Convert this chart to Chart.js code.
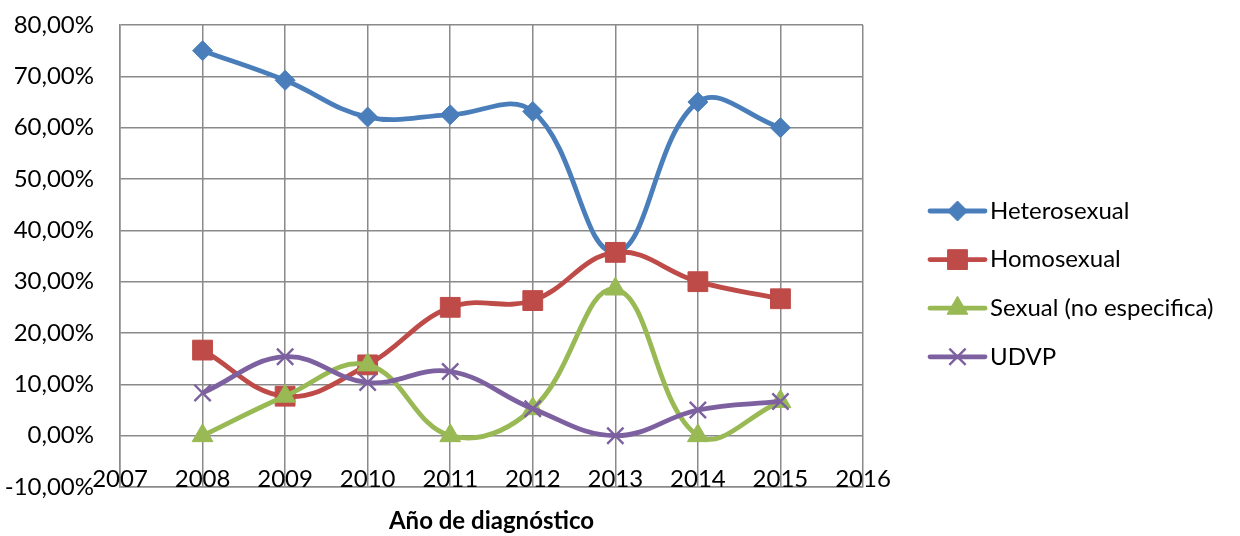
<!DOCTYPE html>
<html>
<head>
<meta charset="utf-8">
<style>
  html, body { margin: 0; padding: 0; background: #ffffff; }
  #wrap { width: 1240px; height: 536px; }
</style>
<script src="https://cdn.jsdelivr.net/npm/chart.js@4.4.0/dist/chart.umd.min.js"></script>
</head>
<body>
<div id="wrap"><canvas id="chart" width="1240" height="536"></canvas></div>
<script>
// Years of diagnosis
const years = [2008, 2009, 2010, 2011, 2012, 2013, 2014, 2015];

// Share of cases by transmission route (percent)
const heterosexual = [75.00, 69.23, 62.07, 62.50, 63.16, 35.71, 65.00, 60.00];
const homosexual = [16.67, 7.69, 13.79, 25.00, 26.32, 35.71, 30.00, 26.67];
const sexualNoEspecifica = [0.00, 7.69, 13.79, 0.00, 5.26, 28.57, 0.00, 6.67];
const udvp = [8.33, 15.38, 10.34, 12.50, 5.26, 0.00, 5.00, 6.67];

const seriesNames = ['Heterosexual', 'Homosexual', 'Sexual (no especifica)', 'UDVP'];
const axisTitle = 'Año de diagnóstico';

const FONT = 'Lato, "Open Sans", "DejaVu Sans", sans-serif';
const FONT_SIZE = 24;
const GRID = '#8a8a8a';

function toPoints(values) {
  return values.map((v, i) => ({ x: years[i], y: v }));
}

const styles = [
  { color: '#4a7ebb', pointStyle: 'rectRot', radius: 10, pbw: 1 },
  { color: '#be4b48', pointStyle: 'rect', radius: 14, pbw: 1 },
  { color: '#98b954', pointStyle: 'triangle', radius: 12, pbw: 1 },
  { color: '#7d60a0', pointStyle: 'crossRot', radius: 11.5, pbw: 2.4 }
];
const seriesValues = [heterosexual, homosexual, sexualNoEspecifica, udvp];

const datasets = seriesValues.map((vals, i) => ({
  label: seriesNames[i],
  data: toPoints(vals),
  borderColor: styles[i].color,
  backgroundColor: styles[i].color,
  pointBackgroundColor: styles[i].color,
  pointBorderColor: styles[i].color,
  pointBorderWidth: styles[i].pbw,
  pointStyle: styles[i].pointStyle,
  pointRadius: styles[i].radius,
  pointHoverRadius: styles[i].radius,
  borderWidth: 4.8,
  tension: 0.4,
  fill: false,
  order: 4 - i
}));

// Year labels sit just inside the bottom of the plot area
const yearLabels = {
  id: 'yearLabels',
  afterDraw(chart) {
    const ctx = chart.ctx;
    const xs = chart.scales.x;
    const y = chart.chartArea.bottom - 8;
    ctx.save();
    ctx.fillStyle = '#000000';
    ctx.font = FONT_SIZE + 'px ' + FONT;
    ctx.textAlign = 'center';
    ctx.textBaseline = 'middle';
    xs.ticks.forEach((t) => {
      ctx.fillText(String(t.value), xs.getPixelForValue(t.value), y);
    });
    ctx.restore();
  }
};

// Legend on the right: line segment with the series marker, then the name
const sideLegend = {
  id: 'sideLegend',
  afterDraw(chart) {
    const ctx = chart.ctx;
    const x0 = 930, x1 = 985, tx = 990, y0 = 211, step = 48.6;
    ctx.save();
    styles.forEach((s, i) => {
      const y = y0 + i * step;
      ctx.strokeStyle = s.color;
      ctx.fillStyle = s.color;
      ctx.lineWidth = 4.8;
      ctx.lineCap = 'round';
      ctx.beginPath();
      ctx.moveTo(x0, y);
      ctx.lineTo(x1, y);
      ctx.stroke();
      ctx.lineCap = 'butt';
      ctx.lineWidth = s.pbw;
      Chart.helpers.drawPoint(ctx, {
        pointStyle: s.pointStyle,
        radius: s.radius,
        borderWidth: s.pbw,
        rotation: 0
      }, (x0 + x1) / 2, y);
      ctx.fillStyle = '#000000';
      ctx.font = FONT_SIZE + 'px ' + FONT;
      ctx.textAlign = 'left';
      ctx.textBaseline = 'middle';
      ctx.fillText(seriesNames[i], tx, y);
    });
    ctx.restore();
  }
};

new Chart(document.getElementById('chart'), {
  type: 'line',
  data: { datasets },
  plugins: [yearLabels, sideLegend],
  options: {
    responsive: false,
    animation: false,
    devicePixelRatio: 1,
    layout: { padding: { top: 25, right: 377, left: 0, bottom: 0 } },
    plugins: {
      legend: { display: false },
      tooltip: { enabled: false }
    },
    scales: {
      x: {
        type: 'linear',
        min: 2007,
        max: 2016,
        afterFit(scale) { scale.height = 49; },
        ticks: {
          stepSize: 1,
          display: false
        },
        grid: { color: GRID, lineWidth: 1.5, drawTicks: false },
        border: { color: GRID, width: 1.5 },
        title: {
          display: true,
          text: axisTitle,
          color: '#000000',
          font: { family: FONT, size: 24, weight: 'bold' },
          padding: { top: 0, bottom: 0 }
        }
      },
      y: {
        min: -10,
        max: 80,
        afterFit(scale) {
          scale.width = 120;
          scale.paddingTop = 0;
          scale.paddingBottom = 0;
        },
        ticks: {
          stepSize: 10,
          padding: 26,
          color: '#000000',
          font: { family: FONT, size: FONT_SIZE },
          callback: (v) => v.toFixed(2).replace('.', ',') + '%'
        },
        grid: { color: GRID, lineWidth: 1.5, drawTicks: false },
        border: { color: GRID, width: 1.5 }
      }
    }
  }
});
</script>
</body>
</html>
